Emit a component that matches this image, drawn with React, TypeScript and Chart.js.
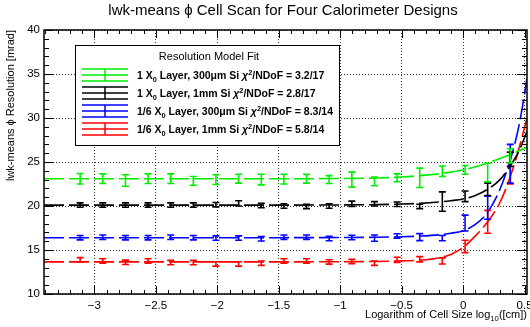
import React, { useEffect, useRef } from 'react';
import { Chart, registerables } from 'chart.js';

Chart.register(...registerables);

// ---- data ----
const cellLog = [-3.116, -2.932, -2.747, -2.563, -2.379, -2.195, -2.011, -1.826, -1.642, -1.458,
  -1.274, -1.090, -0.905, -0.721, -0.537, -0.353, -0.169, 0.016, 0.200, 0.384];

const greenVals = [23.1, 23.1, 22.9, 23.1, 23.1, 22.85, 23.0, 23.1, 23.0, 23.05, 23.1, 23.0, 23.0, 22.8, 23.2, 23.2, 23.95, 24.1, 23.8, 25.7];
const greenErrs = [0.6, 0.55, 0.65, 0.55, 0.55, 0.5, 0.55, 0.5, 0.6, 0.55, 0.5, 0.45, 0.85, 0.5, 0.45, 1.1, 0.6, 0.5, 1.05, 0.8];

const blackVals = [20.1, 20.1, 20.1, 20.1, 20.1, 20.1, 20.15, 20.3, 20.05, 20.0, 19.95, 20.0, 20.25, 20.25, 20.2, 19.95, 20.5, 21.1, 21.9, 25.3];
const blackErrs = [0.25, 0.25, 0.25, 0.25, 0.25, 0.25, 0.25, 0.3, 0.25, 0.25, 0.25, 0.25, 0.3, 0.25, 0.25, 0.25, 1.1, 0.6, 0.7, 0.8];

const blueVals = [16.4, 16.45, 16.4, 16.4, 16.45, 16.4, 16.35, 16.35, 16.27, 16.46, 16.46, 16.3, 16.42, 16.35, 16.6, 16.46, 16.35, 18.06, 19.8, 24.8];
const blueErrs = [0.25, 0.25, 0.25, 0.25, 0.25, 0.25, 0.25, 0.25, 0.25, 0.25, 0.25, 0.25, 0.25, 0.35, 0.25, 0.4, 0.3, 0.9, 1.3, 2.2];

const redVals = [13.88, 13.76, 13.6, 13.76, 13.57, 13.57, 13.42, 13.42, 13.5, 13.76, 13.76, 13.65, 13.7, 13.5, 13.88, 13.95, 13.76, 15.4, 18.2, 24.3];
const redErrs = [0.25, 0.25, 0.25, 0.25, 0.25, 0.25, 0.25, 0.25, 0.25, 0.25, 0.25, 0.25, 0.25, 0.25, 0.3, 0.3, 0.35, 0.7, 1.3, 1.8];

const fitX = [-3.41, -2.5, -1.5, -1.0, -0.7, -0.5, -0.35, -0.2, -0.1, 0.0, 0.1, 0.2, 0.3, 0.4, 0.46, 0.52];
const fitGreen = [23.1, 23.1, 23.1, 23.12, 23.18, 23.3, 23.45, 23.65, 23.85, 24.1, 24.45, 24.9, 25.4, 25.95, 26.3, 26.7];
const fitBlack = [20.1, 20.1, 20.1, 20.12, 20.16, 20.22, 20.3, 20.45, 20.6, 20.8, 21.2, 21.9, 23.0, 24.9, 26.4, 28.5];
const fitBlue = [16.4, 16.4, 16.4, 16.42, 16.45, 16.5, 16.58, 16.72, 16.9, 17.2, 17.9, 19.3, 21.9, 26.0, 29.5, 34.5];
const fitRed = [13.65, 13.65, 13.65, 13.67, 13.7, 13.76, 13.85, 14.1, 14.5, 15.3, 16.6, 18.2, 20.4, 24.0, 26.8, 30.0];

const legendLabels = ['1 X|0| Layer, 300\u03bcm Si ', '1 X|0| Layer, 1mm Si ', '1/6 X|0| Layer, 300\u03bcm Si ', '1/6 X|0| Layer, 1mm Si '];
const chiValues = ['3.2/17', '2.8/17', '8.3/14', '5.8/14'];
const seriesColors = ['#00ee00', '#000000', '#0000ff', '#ff0000'];

const titleText = 'lwk-means \u03d5 Cell Scan for Four Calorimeter Designs';
const yTitleText = 'lwk-means \u03d5 Resolution [mrad]';
const xTitleMain = 'Logarithm of Cell Size log';
const xTitleSub = '10';
const xTitleEnd = '([cm])';
const legendTitle = 'Resolution Model Fit';

const X_MIN = -3.41, X_MAX = 0.52, Y_MIN = 10, Y_MAX = 40;

const FONT = '"Liberation Sans", Arial, Helvetica, sans-serif';

type Part = { t: string; sub?: boolean; sup?: boolean; italic?: boolean };

function drawParts(ctx: CanvasRenderingContext2D, parts: Part[], x: number, y: number, size: number, bold: boolean) {
  let cx = x;
  for (const p of parts) {
    const s = p.sub || p.sup ? size * 0.7 : size;
    ctx.font = `${p.italic ? 'italic ' : ''}${bold ? 'bold ' : ''}${s}px ${FONT}`;
    const dy = p.sub ? size * 0.3 : p.sup ? -size * 0.42 : 0;
    ctx.fillText(p.t, cx, y + dy);
    cx += ctx.measureText(p.t).width;
  }
  return cx - x;
}

function measureParts(ctx: CanvasRenderingContext2D, parts: Part[], size: number, bold: boolean) {
  let w = 0;
  for (const p of parts) {
    const s = p.sub || p.sup ? size * 0.7 : size;
    ctx.font = `${p.italic ? 'italic ' : ''}${bold ? 'bold ' : ''}${s}px ${FONT}`;
    w += ctx.measureText(p.t).width;
  }
  return w;
}

function labelParts(label: string, chi: string): Part[] {
  const seg = label.split('|');
  return [
    { t: seg[0] }, { t: seg[1], sub: true }, { t: seg[2] },
    { t: '\u03c7', italic: true }, { t: '2', sup: true }, { t: '/NDoF = ' + chi },
  ];
}

const errorSets = [
  { vals: redVals, errs: redErrs, color: seriesColors[3] },
  { vals: blueVals, errs: blueErrs, color: seriesColors[2] },
  { vals: blackVals, errs: blackErrs, color: seriesColors[1] },
  { vals: greenVals, errs: greenErrs, color: seriesColors[0] },
];

const decorPlugin = {
  id: 'rootDecor',
  afterDatasetsDraw(chart: any) {
    const ctx: CanvasRenderingContext2D = chart.ctx;
    const xs = chart.scales.x, ys = chart.scales.y;
    const area = chart.chartArea;
    ctx.save();
    ctx.beginPath();
    ctx.rect(area.left, area.top, area.right - area.left, area.bottom - area.top);
    ctx.clip();
    for (const set of errorSets) {
      ctx.strokeStyle = set.color;
      ctx.lineWidth = 1.6;
      for (let i = 0; i < cellLog.length; i++) {
        const px = xs.getPixelForValue(cellLog[i]);
        const t = ys.getPixelForValue(set.vals[i] + set.errs[i]);
        const b = ys.getPixelForValue(set.vals[i] - set.errs[i]);
        ctx.beginPath();
        ctx.moveTo(px, t); ctx.lineTo(px, b);
        ctx.moveTo(px - 3.5, t); ctx.lineTo(px + 3.5, t);
        ctx.moveTo(px - 3.5, b); ctx.lineTo(px + 3.5, b);
        ctx.stroke();
      }
    }
    ctx.restore();
  },
  afterDraw(chart: any) {
    const ctx: CanvasRenderingContext2D = chart.ctx;
    const xs = chart.scales.x, ys = chart.scales.y;
    const a = chart.chartArea;
    ctx.save();
    // frame
    ctx.strokeStyle = '#000';
    ctx.lineWidth = 1.5;
    ctx.strokeRect(a.left, a.top, a.right - a.left, a.bottom - a.top);
    // inward ticks
    ctx.lineWidth = 1;
    ctx.beginPath();
    for (let v = Y_MIN; v <= Y_MAX + 1e-9; v += 1) {
      const py = Math.round(ys.getPixelForValue(v)) + 0.5;
      const len = v % 5 === 0 ? 10 : 5;
      ctx.moveTo(a.left, py); ctx.lineTo(a.left + len, py);
      ctx.moveTo(a.right, py); ctx.lineTo(a.right - len, py);
    }
    for (let k = -34; k <= 5; k++) {
      const v = k / 10;
      const px = Math.round(xs.getPixelForValue(v)) + 0.5;
      const len = k % 5 === 0 ? 8 : 4;
      ctx.moveTo(px, a.bottom); ctx.lineTo(px, a.bottom - len);
      ctx.moveTo(px, a.top); ctx.lineTo(px, a.top + len);
    }
    ctx.stroke();

    // title
    ctx.fillStyle = '#000';
    ctx.textBaseline = 'alphabetic';
    ctx.textAlign = 'center';
    ctx.font = `15px ${FONT}`;
    ctx.fillText(titleText, 283, 15);

    // y title
    ctx.save();
    ctx.translate(14, a.top);
    ctx.rotate(-Math.PI / 2);
    ctx.textAlign = 'right';
    ctx.font = `11px ${FONT}`;
    ctx.fillText(yTitleText, 0, 0);
    ctx.restore();

    // x title
    ctx.textAlign = 'left';
    const xParts: Part[] = [{ t: xTitleMain }, { t: xTitleSub, sub: true }, { t: xTitleEnd }];
    const wx = measureParts(ctx, xParts, 11, false);
    drawParts(ctx, xParts, a.right - wx, 318, 11, false);

    // legend
    const lx = 75, ly = 45, lw = 264, lh = 100;
    ctx.fillStyle = '#fff';
    ctx.fillRect(lx, ly, lw, lh);
    ctx.strokeStyle = '#000';
    ctx.lineWidth = 1;
    ctx.strokeRect(lx + 0.5, ly + 0.5, lw, lh);
    ctx.fillStyle = '#000';
    ctx.textAlign = 'center';
    ctx.font = `11px ${FONT}`;
    ctx.fillText(legendTitle, lx + lw / 2 + 2, ly + 15);
    ctx.textAlign = 'left';
    for (let i = 0; i < 4; i++) {
      const cy = ly + 30 + i * 18;
      const col = seriesColors[i];
      ctx.strokeStyle = col;
      ctx.lineWidth = 1.5;
      ctx.beginPath();
      ctx.moveTo(82, cy - 6); ctx.lineTo(128, cy - 6);
      ctx.moveTo(82, cy); ctx.lineTo(128, cy);
      ctx.moveTo(82, cy + 6); ctx.lineTo(128, cy + 6);
      ctx.moveTo(105, cy - 6); ctx.lineTo(105, cy + 6);
      ctx.stroke();
      ctx.fillStyle = '#000';
      drawParts(ctx, labelParts(legendLabels[i], chiValues[i]), 137, cy + 4, 10.5, true);
    }
    ctx.restore();
  },
};

function fitData(ys: number[]) {
  return fitX.map((x, i) => ({ x, y: ys[i] }));
}

export default function App() {
  const ref = useRef<HTMLCanvasElement | null>(null);
  useEffect(() => {
    if (!ref.current) return;
    const mk = (data: number[], color: string) => ({
      type: 'line' as const,
      data: fitData(data),
      borderColor: color,
      borderWidth: 1.6,
      borderDash: [20, 5],
      pointRadius: 0,
      cubicInterpolationMode: 'monotone' as const,
      fill: false,
    });
    const gridOpts = { color: 'rgba(0,0,0,0.8)', lineWidth: 1, drawTicks: false };
    const chart = new Chart(ref.current, {
      type: 'line',
      data: {
        datasets: [
          mk(fitGreen, seriesColors[0]),
          mk(fitBlack, seriesColors[1]),
          mk(fitBlue, seriesColors[2]),
          mk(fitRed, seriesColors[3]),
        ],
      },
      options: {
        animation: false,
        responsive: false,
        devicePixelRatio: 1,
        layout: { padding: { top: 30, right: 3, left: 0, bottom: 0 } },
        plugins: { legend: { display: false }, tooltip: { enabled: false }, title: { display: false } },
        scales: {
          x: {
            type: 'linear',
            min: X_MIN,
            max: X_MAX,
            border: { display: false, dash: [1, 2] },
            grid: gridOpts,
            ticks: {
              stepSize: 0.5,
              includeBounds: false,
              padding: 5,
              color: '#000',
              font: { family: FONT, size: 11.5 },
              maxRotation: 0,
              autoSkip: false,
              callback: (v: any) => {
                const n = Number(v);
                if (Math.abs(n) < 1e-9) return '0';
                return n < 0 ? '\u2212' + String(Math.abs(n)) : String(n);
              },
            },
            afterFit: (s: any) => { s.height = 33; s.paddingLeft = 0; s.paddingRight = 0; },
          },
          y: {
            type: 'linear',
            min: Y_MIN,
            max: Y_MAX,
            border: { display: false, dash: [1, 2] },
            grid: gridOpts,
            ticks: {
              stepSize: 5,
              padding: 4,
              color: '#000',
              font: { family: FONT, size: 11.5 },
            },
            afterFit: (s: any) => { s.width = 44; s.paddingTop = 0; s.paddingBottom = 0; },
          },
        },
      },
      plugins: [decorPlugin],
    });
    return () => chart.destroy();
  }, []);
  return (
    <div style={{ position: 'fixed', left: 0, top: 0, width: 530, height: 327, background: '#fff' }}>
      <canvas ref={ref} width={530} height={327} style={{ width: 530, height: 327 }} />
    </div>
  );
}
